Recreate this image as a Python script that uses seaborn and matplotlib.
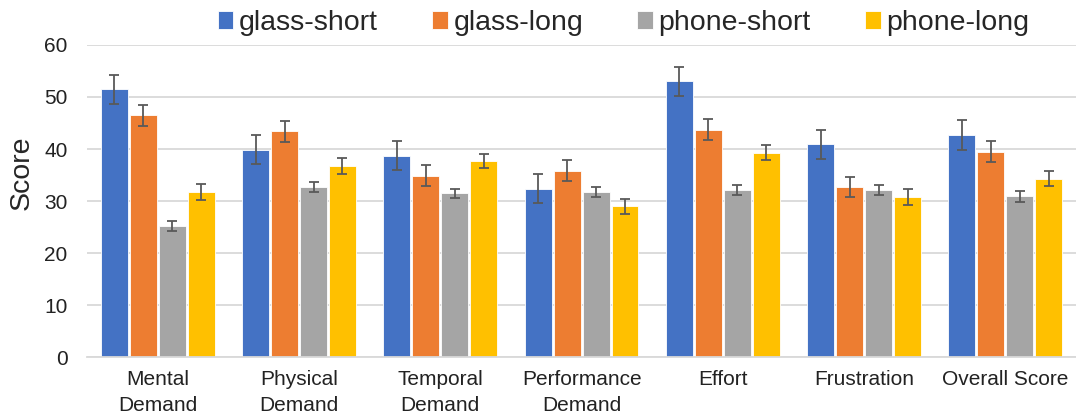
import pandas as pd
import seaborn as sns
import matplotlib.pyplot as plt

# Datos
categorias = ["Mental\nDemand", "Physical\nDemand", "Temporal\nDemand", "Performance\nDemand",
              "Effort", "Frustration", "Overall Score"]
condiciones = ["glass-short", "glass-long", "phone-short", "phone-long"]

glass_short = [51.5, 39.9, 38.7, 32.4, 53.0, 40.9, 42.7]
glass_long = [46.5, 43.4, 34.9, 35.8, 43.7, 32.7, 39.5]
phone_short = [25.2, 32.7, 31.5, 31.8, 32.1, 32.1, 30.9]
phone_long = [31.8, 36.8, 37.7, 29.0, 39.3, 30.8, 34.3]

err_glass_short = [2.8, 2.8, 2.8, 2.8, 2.8, 2.8, 2.9]
err_glass_long = [2.0, 2.0, 2.0, 2.0, 2.0, 2.0, 2.0]
err_phone_short = [1.0, 1.0, 0.9, 1.0, 1.0, 1.0, 1.0]
err_phone_long = [1.5, 1.5, 1.4, 1.5, 1.5, 1.5, 1.4]

colores = ["#4472C4", "#ED7D31", "#A5A5A5", "#FFC000"]

valores = [glass_short, glass_long, phone_short, phone_long]
errores = [err_glass_short, err_glass_long, err_phone_short, err_phone_long]

# Armamos el DataFrame en formato largo
filas = []
for cond, vals in zip(condiciones, valores):
    for cat, v in zip(categorias, vals):
        filas.append({"categoria": cat, "condicion": cond, "score": v})
df = pd.DataFrame(filas)

sns.set_theme(style="white")
plt.rcParams["font.family"] = ["Liberation Sans", "DejaVu Sans"]

fig = plt.figure(figsize=(10.76, 4.19), dpi=100)
ax = fig.add_axes([0.081, 0.147, 0.919, 0.746])

sns.barplot(data=df, x="categoria", y="score", hue="condicion", order=categorias,
            hue_order=condiciones, palette=colores, errorbar=None, width=0.82, gap=0.07,
            edgecolor="white", linewidth=0.6, saturation=1, ax=ax)

# Barras de error sobre el centro de cada barra
for cont, errs in zip(ax.containers, errores):
    xs = [b.get_x() + b.get_width() / 2 for b in cont]
    ys = [b.get_height() for b in cont]
    ax.errorbar(xs, ys, yerr=errs, fmt="none", ecolor="#595959", elinewidth=1.3,
                capsize=3.5, capthick=1.3, zorder=5)

ax.set_ylim(0, 60)
ax.set_xlim(-0.5, 6.5)
ax.set_yticks(range(0, 61, 10))
ax.yaxis.grid(True, color="#D9D9D9", linewidth=1.3)
ax.set_axisbelow(True)
for lado in ["top", "right", "left"]:
    ax.spines[lado].set_visible(False)
ax.spines["bottom"].set_color("#D9D9D9")
ax.spines["bottom"].set_linewidth(1.3)
ax.tick_params(axis="both", length=0, labelsize=15, colors="#222222")
ax.tick_params(axis="y", pad=14)
ax.tick_params(axis="x", pad=9)
for t in ax.get_xticklabels():
    t.set_linespacing(1.45)
ax.set_xlabel("")
ax.set_ylabel("Score", fontsize=20.5)
ax.yaxis.set_label_coords(-0.053, 0.59)

ax.get_legend().remove()
handles, labels = ax.get_legend_handles_labels()
fig.legend(handles, labels, loc="center", bbox_to_anchor=(0.5795, 0.945), ncol=4,
           frameon=False, fontsize=20.5, handlelength=0.55, handleheight=0.55,
           handletextpad=0.2, columnspacing=1.9)

fig.savefig("out.png", dpi=100)
plt.close()
